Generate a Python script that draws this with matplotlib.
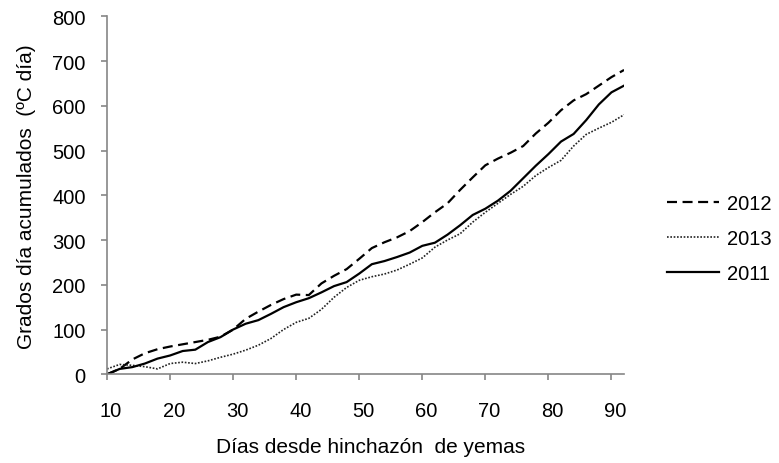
import matplotlib.pyplot as plt
from matplotlib.transforms import ScaledTranslation

plt.rcParams['font.family'] = ['Liberation Sans', 'DejaVu Sans']

# días desde hinchazón de yemas
dias = [10, 12, 14, 16, 18, 20, 22, 24, 26, 28, 30, 32, 34, 36, 38, 40, 42, 44, 46, 48, 50,
        52, 54, 56, 58, 60, 62, 64, 66, 68, 70, 72, 74, 76, 78, 80, 82, 84, 86, 88, 90, 92]

# grados día acumulados por temporada
gd_2012 = [0, 12, 33, 47, 56, 62, 67, 72, 77, 84, 100, 124, 140, 155, 168, 178, 177, 203, 220, 235, 258,
           282, 295, 306, 320, 340, 362, 382, 412, 440, 467, 482, 495, 510, 538, 562, 590, 612, 626, 645, 664, 680]
gd_2013 = [12, 22, 20, 17, 12, 24, 27, 24, 30, 38, 45, 54, 65, 80, 100, 116, 125, 145, 172, 194, 210,
           218, 224, 233, 246, 260, 284, 300, 314, 340, 362, 382, 402, 420, 444, 462, 478, 510, 536, 550, 563, 580]
gd_2011 = [0, 12, 16, 24, 35, 42, 52, 55, 72, 83, 100, 113, 121, 135, 150, 161, 170, 183, 197, 206, 225,
           246, 253, 262, 272, 287, 294, 312, 333, 356, 370, 388, 410, 438, 466, 492, 520, 537, 568, 603, 630, 645]

gris = '#868686'

fig = plt.figure(figsize=(7.79, 4.64), dpi=100)
ax = fig.add_axes([0.1374, 0.1912, 0.6637, 0.7716])

ax.plot(dias, gd_2012, color='black', lw=1.6, linestyle=(0, (4.5, 2.5)), label='2012')
ax.plot(dias, gd_2013, color='#222222', lw=1.2, linestyle=(0, (1, 1.0)), label='2013')
ax.plot(dias, gd_2011, color='black', lw=1.6, linestyle='-', label='2011')

ax.set_xlim(10, 92)
ax.set_ylim(0, 800)
ax.set_xticks(range(10, 91, 10))
ax.set_yticks(range(0, 801, 100))

for lado in ['top', 'right']:
    ax.spines[lado].set_visible(False)
for lado in ['left', 'bottom']:
    ax.spines[lado].set_color(gris)
    ax.spines[lado].set_linewidth(1.2)

ax.tick_params(axis='both', colors=gris, labelcolor='black', labelsize=14.5, length=4.5, width=1.2)
ax.tick_params(axis='y', pad=11)
ax.tick_params(axis='x', pad=15)

desp = ScaledTranslation(4 / 100, 0, fig.dpi_scale_trans)
for etiqueta in ax.get_xticklabels():
    etiqueta.set_transform(etiqueta.get_transform() + desp)

ax.set_xlabel('Días desde hinchazón  de yemas', fontsize=15)
ax.xaxis.set_label_coords(0.51, -0.176)
ax.set_ylabel('Grados día acumulados  (ºC día)', fontsize=15)
ax.yaxis.set_label_coords(-0.137, 0.5)

ax.legend(loc='center left', bbox_to_anchor=(0.856, 0.483), bbox_transform=fig.transFigure,
          frameon=False, fontsize=14.5, borderpad=0, borderaxespad=0, handlelength=2.6,
          handletextpad=0.4, labelspacing=0.8)

fig.savefig('out.png', dpi=100)
